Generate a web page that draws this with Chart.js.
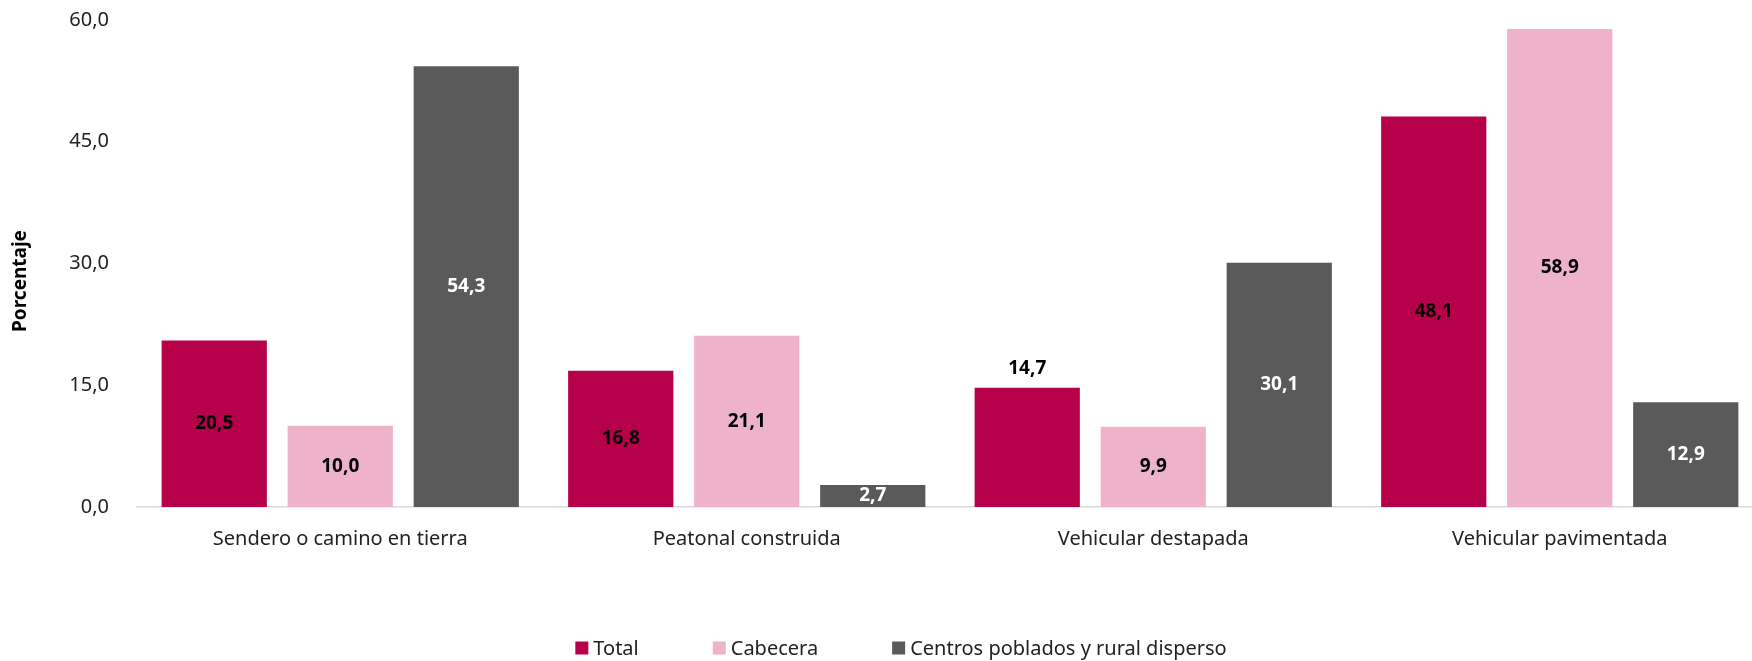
<!DOCTYPE html>
<html>
<head>
<meta charset="utf-8">
<script src="https://cdn.jsdelivr.net/npm/chart.js@4"></script>
<style>
    html, body { margin: 0; padding: 0; background: #fff; }
    #wrap { width: 1752px; height: 661px; }
</style>
</head>
<body>
<div id="wrap"><canvas id="chart"></canvas></div>
<script>
// Chart data
const categories = ['Sendero o camino en tierra', 'Peatonal construida', 'Vehicular destapada', 'Vehicular pavimentada'];
const seriesNames = ['Total', 'Cabecera', 'Centros poblados y rural disperso'];
const totalValues = [20.5, 16.8, 14.7, 48.1];
const cabeceraValues = [10.0, 21.1, 9.9, 58.9];
const centrosValues = [54.3, 2.7, 30.1, 12.9];
const yTicks = [0, 15, 30, 45, 60];
const yTitle = 'Porcentaje';

const colors = ['#B7004A', '#EEB3CB', '#5A5A5A'];
const labelColors = ['#000', '#000', '#fff'];
const FONT = "'Segoe UI', 'Noto Sans', 'Open Sans', sans-serif";

const fmt = v => v.toFixed(1).replace('.', ',');

// The plot runs a little past the right edge and close to the top in the original
const fitArea = {
    id: 'fitArea',
    afterLayout(chart) {
        const x = chart.scales.x, y = chart.scales.y, area = chart.chartArea;
        x.right += 11;
        x.width += 11;
        x.configure();
        const top = 20;
        y.height = y.bottom - top;
        y.top = top;
        y.configure();
        area.right += 11;
        area.width += 11;
        area.height = area.bottom - top;
        area.top = top;
    }
};

// Rotated axis title, placed like the original
const axisTitle = {
    id: 'axisTitle',
    afterDraw(chart) {
        const ctx = chart.ctx;
        ctx.save();
        ctx.translate(21, 281);
        ctx.rotate(-Math.PI / 2);
        ctx.font = 'bold 19px ' + FONT;
        ctx.fillStyle = '#000';
        ctx.textAlign = 'center';
        ctx.textBaseline = 'middle';
        ctx.fillText(yTitle, 0, 0);
        ctx.restore();
    }
};

// Value labels drawn in the middle of each bar (one sits above its bar, as in the original)
const valueLabels = {
    id: 'valueLabels',
    afterDatasetsDraw(chart) {
        const ctx = chart.ctx;
        ctx.save();
        ctx.font = 'bold 19px ' + FONT;
        ctx.textAlign = 'center';
        ctx.textBaseline = 'middle';
        chart.data.datasets.forEach((ds, i) => {
            chart.getDatasetMeta(i).data.forEach((bar, j) => {
                const above = i === 0 && j === 2;
                const y = above ? bar.y - 19 : (bar.y + bar.base) / 2;
                ctx.fillStyle = above ? '#000' : labelColors[i];
                ctx.fillText(fmt(ds.data[j]), bar.x, y);
            });
        });
        ctx.restore();
    }
};

// Legend at the bottom, spaced like the original
const bottomLegend = {
    id: 'bottomLegend',
    afterDraw(chart) {
        const ctx = chart.ctx;
        ctx.save();
        ctx.font = '20px ' + FONT;
        ctx.textBaseline = 'middle';
        const box = 13, gapText = 5, gapItem = 74;
        const widths = chart.data.datasets.map(ds => box + gapText + ctx.measureText(ds.label).width);
        const total = widths.reduce((a, b) => a + b, 0) + gapItem * (widths.length - 1);
        let x = 901 - total / 2;
        const y = 648;
        chart.data.datasets.forEach((ds, i) => {
            ctx.fillStyle = ds.backgroundColor;
            ctx.fillRect(x, y - box / 2, box, box);
            ctx.fillStyle = '#222';
            ctx.fillText(ds.label, x + box + gapText, y + 1);
            x += widths[i] + gapItem;
        });
        ctx.restore();
    }
};

const ctx = document.getElementById('chart').getContext('2d');
const chart = new Chart(ctx, {
    type: 'bar',
    data: {
        labels: categories,
        datasets: [totalValues, cabeceraValues, centrosValues].map((vals, i) => ({
            label: seriesNames[i],
            data: vals,
            backgroundColor: colors[i],
            categoryPercentage: 0.93,
            barPercentage: 0.835
        }))
    },
    options: {
        responsive: true,
        maintainAspectRatio: false,
        animation: false,
        layout: { padding: { top: 0, right: 0, left: 0, bottom: 0 } },
        plugins: {
            legend: { display: false },
            tooltip: { enabled: false }
        },
        scales: {
            x: {
                grid: { display: false },
                border: { color: '#d9d9d9', width: 1.5 },
                ticks: {
                    color: '#222',
                    font: { family: FONT, size: 20 },
                    padding: 12,
                    maxRotation: 0
                },
                afterFit(scale) { scale.height = 154; }
            },
            y: {
                min: 0,
                max: 60,
                afterBuildTicks(scale) { scale.ticks = yTicks.map(v => ({ value: v })); },
                grid: { display: false },
                border: { display: false },
                ticks: {
                    color: '#222',
                    font: { family: FONT, size: 20 },
                    padding: 20,
                    callback: v => fmt(v)
                },
                afterFit(scale) { scale.width = 137; }
            }
        }
    },
    plugins: [fitArea, valueLabels, axisTitle, bottomLegend]
});
</script>
</body>
</html>
